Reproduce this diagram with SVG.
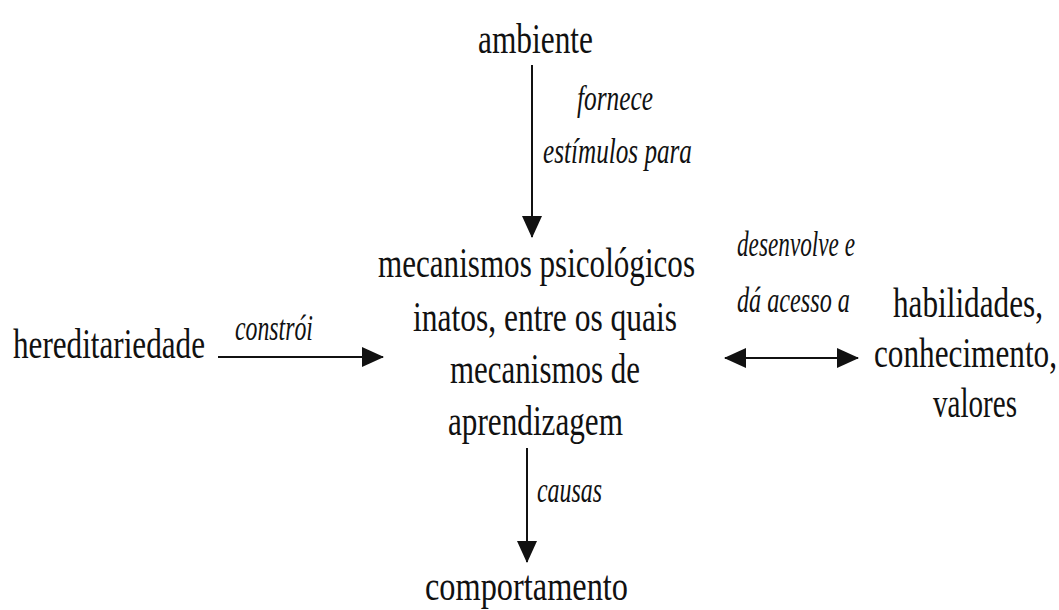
<svg xmlns="http://www.w3.org/2000/svg" width="1059" height="610" viewBox="0 0 1059 610">
<style>
.n{font-family:"Liberation Serif","Times New Roman",serif;font-size:42px;fill:#111;}
.l{font-family:"Liberation Serif","Times New Roman",serif;font-style:italic;font-size:35px;fill:#111;}
.c{stroke:#111;stroke-width:2;fill:none;}
</style>
<defs>
<marker id="ah" markerUnits="userSpaceOnUse" markerWidth="22" markerHeight="20" refX="21" refY="10" orient="auto-start-reverse">
<path d="M0,0 L22,10 L0,20 Z" fill="#111"/>
</marker>
</defs>
<rect width="1059" height="610" fill="#fff"/>
<g id="ambiente"><text class="n" transform="translate(478,53) scale(0.74,1)" textLength="155.4" lengthAdjust="spacingAndGlyphs">ambiente</text></g>
<g id="mecanismos">
<text class="n" transform="translate(378,277) scale(0.74,1)" textLength="428.4" lengthAdjust="spacingAndGlyphs">mecanismos psicológicos</text>
<text class="n" transform="translate(413,331) scale(0.74,1)" textLength="356.8" lengthAdjust="spacingAndGlyphs">inatos, entre os quais</text>
<text class="n" transform="translate(450,383) scale(0.74,1)" textLength="256.8" lengthAdjust="spacingAndGlyphs">mecanismos de</text>
<text class="n" transform="translate(448,435) scale(0.74,1)" textLength="236.5" lengthAdjust="spacingAndGlyphs">aprendizagem</text>
</g>
<g id="hereditariedade"><text class="n" transform="translate(13,358) scale(0.74,1)" textLength="259.5" lengthAdjust="spacingAndGlyphs">hereditariedade</text></g>
<g id="habilidades">
<text class="n" transform="translate(893,317) scale(0.74,1)" textLength="202.7" lengthAdjust="spacingAndGlyphs">habilidades,</text>
<text class="n" transform="translate(874,367) scale(0.74,1)" textLength="247.3" lengthAdjust="spacingAndGlyphs">conhecimento,</text>
<text class="n" transform="translate(933,417) scale(0.74,1)" textLength="113.5" lengthAdjust="spacingAndGlyphs">valores</text>
</g>
<g id="comportamento"><text class="n" transform="translate(425,600) scale(0.74,1)" textLength="274.3" lengthAdjust="spacingAndGlyphs">comportamento</text></g>
<g id="connectors">
<line class="c" x1="532" y1="65" x2="532" y2="237" marker-end="url(#ah)"/>
<line class="c" x1="218" y1="357" x2="383" y2="357" marker-end="url(#ah)"/>
<line class="c" x1="725" y1="358" x2="858" y2="358" marker-start="url(#ah)" marker-end="url(#ah)"/>
<line class="c" x1="527" y1="448" x2="527" y2="562" marker-end="url(#ah)"/>
<text class="l" transform="translate(577,110) scale(0.72,1)" textLength="105.6" lengthAdjust="spacingAndGlyphs">fornece</text>
<text class="l" transform="translate(543,163) scale(0.72,1)" textLength="206.9" lengthAdjust="spacingAndGlyphs">estímulos para</text>
<text class="l" transform="translate(235,340) scale(0.72,1)" textLength="108.3" lengthAdjust="spacingAndGlyphs">constrói</text>
<text class="l" transform="translate(737,256) scale(0.72,1)" textLength="163.9" lengthAdjust="spacingAndGlyphs">desenvolve e</text>
<text class="l" transform="translate(737,312) scale(0.72,1)" textLength="156.9" lengthAdjust="spacingAndGlyphs">dá acesso a</text>
<text class="l" transform="translate(537,502) scale(0.72,1)" textLength="90.3" lengthAdjust="spacingAndGlyphs">causas</text>
</g>
</svg>
